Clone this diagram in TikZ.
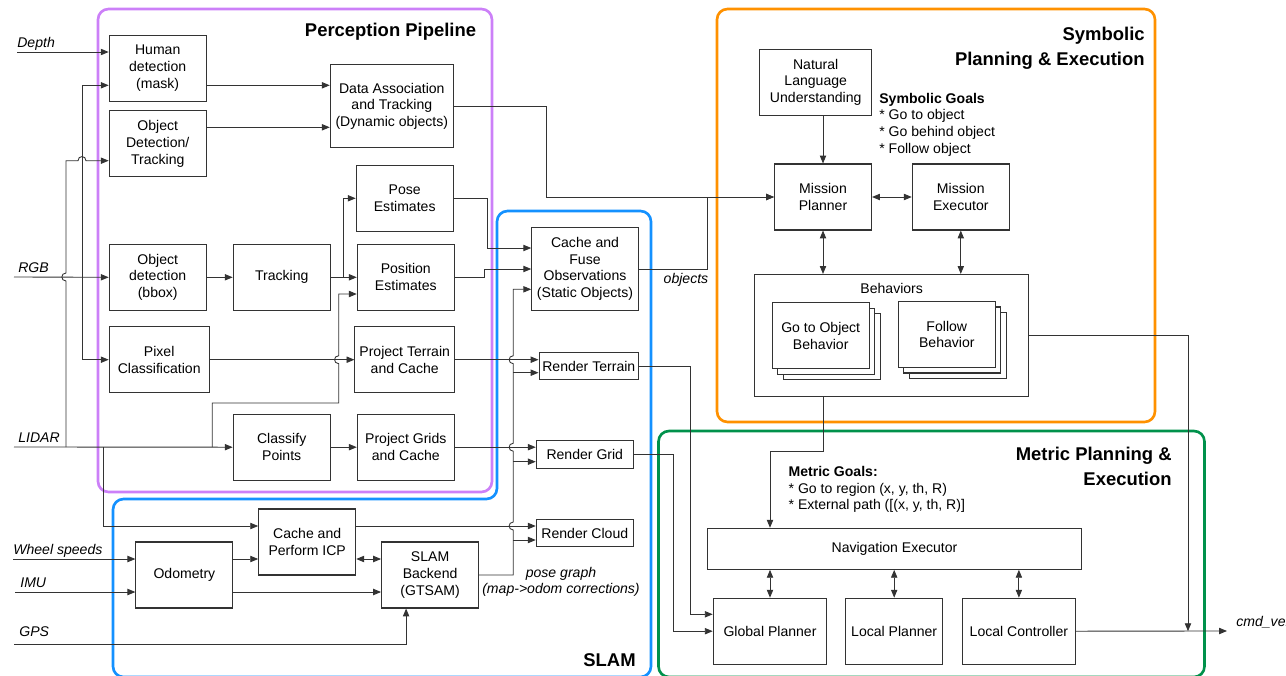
\documentclass[tikz,border=0pt]{standalone}
\usepackage{fontspec}
\setmainfont{Liberation Sans}
\usetikzlibrary{arrows.meta,calc}

\definecolor{percol}{RGB}{204,128,248}
\definecolor{slamcol}{RGB}{20,145,255}
\definecolor{symcol}{RGB}{255,145,0}
\definecolor{metcol}{RGB}{0,145,75}
\definecolor{wirecol}{gray}{0.2}

% line jumps: vertical going up, horizontal going right
\newcommand\hopv[2]{-- (#1,#2+4) .. controls (#1-5.5,#2+4) and (#1-5.5,#2-4) .. (#1,#2-4)}
\newcommand\hoph[2]{-- (#1-4,#2) .. controls (#1-4,#2-5.5) and (#1+4,#2-5.5) .. (#1+4,#2)}

\tikzset{
	box/.style={draw=wirecol,line width=.6pt,fill=white,minimum width=1.94cm,minimum height=1.32cm,inner sep=1pt,align=center,font=\fontsize{8}{9.5}\selectfont},
	flat/.style={box,minimum height=.55cm},
	link/.style={draw=wirecol,line width=.5pt},
	arr/.style={link,-{Triangle[length=4.5pt,width=3.6pt]}},
	darr/.style={link,{Triangle[length=4.5pt,width=3.6pt]}-{Triangle[length=4.5pt,width=3.6pt]}},
	region/.style={line width=1.5pt,rounded corners=6pt},
	title/.style={font=\fontsize{10.5}{14.4}\bfseries,align=right,inner sep=0pt},
	inlbl/.style={font=\fontsize{8}{9.5}\itshape,anchor=base west,inner sep=0pt,yshift=2.3pt},
	note/.style={font=\fontsize{8}{9.5}\selectfont,align=left,inner sep=0pt,anchor=north west}
}

\begin{document}
\begin{tikzpicture}[x=.02cm,y=-.02cm]
	\useasboundingbox (0,0) rectangle (1286,676);
	% regions
	\draw[region,percol] (98,9) rectangle (492,492);
	\draw[region,slamcol] (113,677)--(113,499)--(497,499)--(497,211)--(651,211)--(651,677)--cycle;
	\draw[region,symcol] (717,9) rectangle (1155,422);
	\draw[region,metcol] (658.5,431) rectangle (1204.5,677);
	\node[title,anchor=base east] (pertitle) at (476.5,36.5) {Perception Pipeline};
	\node[title,anchor=north east] (symtitle) at (1145,26.5) {Symbolic\\Planning \& Execution};
	\node[title,anchor=north east] (mettitle) at (1172,446.5) {Metric Planning \&\\Execution};
	\node[title,anchor=base east] (slamtitle) at (636,666) {SLAM};

	% inputs
	\path
	(17,52) coordinate (depth)
	(14,277) coordinate (rgb)
	(14,447) coordinate (lidar)
	(13,559) coordinate (wheel)
	(15,592) coordinate (imu)
	(14,644) coordinate (gps)
	(1227,631) coordinate (cmdvel)
	(513.3,575) coordinate (bus);
	\node[inlbl] (depthlbl) at (depth) {Depth};
	\node[inlbl] (rgblbl) at ($(rgb)+(4,0)$) {RGB};
	\node[inlbl] (lidarlbl) at ($(lidar)+(4,0)$) {LIDAR};
	\node[inlbl] (wheellbl) at (wheel) {Wheel speeds};
	\node[inlbl] (imulbl) at ($(imu)+(5,0)$) {IMU};
	\node[inlbl,yshift=1.7pt] (gpslbl) at ($(gps)+(5,0)$) {GPS};
	\node[inlbl] (cmdlbl) at ($(cmdvel)+(9,0)$) {cmd\_vel};

	% perception
	\node[box] (hum) at (157.7,68.3) {Human\\detection\\(mask)};
	\node[box] (objdt) at (157.7,143.7) {Object\\Detection/\\Tracking};
	\node[box,minimum width=2.46cm,minimum height=1.66cm] (da) at (391.8,106.2) {Data Association\\and Tracking\\(Dynamic objects)};
	\node[box] (pose) at (404.7,198.3) {Pose\\Estimates};
	\node[box] (objb) at (157.7,277.3) {Object\\detection\\(bbox)};
	\node[box] (trk) at (281.7,277.3) {Tracking};
	\node[box] (posi) at (405.8,277.3) {Position\\Estimates};
	\node[box,minimum width=2cm] (pix) at (159.2,359.7) {Pixel\\Classification};
	\node[box,minimum width=1.99cm] (pt) at (404.7,359.7) {Project Terrain\\and Cache};
	\node[box] (cls) at (281.7,447.2) {Classify\\Points};
	\node[box] (pg) at (405.8,447.2) {Project Grids\\and Cache};

	% slam
	\node[box,minimum width=2.13cm,minimum height=1.65cm] (cf) at (585,269) {Cache and\\Fuse\\Observations\\(Static Objects)};
	\node[flat,minimum width=1.99cm] (rt) at (588.8,366.2) {Render Terrain};
	\node[flat] (rg) at (584.8,454.5) {Render Grid};
	\node[flat] (rcl) at (584.8,533) {Render Cloud};
	\node[box] (cicp) at (307.2,542) {Cache and\\Perform ICP};
	\node[box] (odo) at (184.4,575) {Odometry};
	\node[box] (slam) at (430.1,575) {SLAM\\Backend\\(GTSAM)};
	\node[font=\fontsize{8}{9.5}\itshape,align=center,inner sep=0pt] (poselbl) at (561,582) {pose graph\\(map->odom corrections)};
	\node[font=\fontsize{8}{9.5}\itshape,inner sep=0pt] (objlbl) at (686,279.5) {objects};

	% symbolic planning
	\node[box,minimum width=2.23cm] (nlu) at (815.7,82.3) {Natural\\Language\\Understanding};
	\node[box] (mp) at (823,197) {Mission\\Planner};
	\node[box] (me) at (960.8,197) {Mission\\Executor};
	\node[note] (symgoals) at (879,92.5) {\textbf{Symbolic Goals}\\* Go to object\\* Go behind object\\* Follow object};
	\node[box,minimum width=5.49cm,minimum height=2.45cm] (beh) at (891.7,335.7) {};
	\node[font=\fontsize{8}{9.5}\selectfont,inner sep=0pt] (behlbl) at (891.7,288.3) {Behaviors};
	\foreach \s/\n in {11/gtoC,5.5/gtoB} \node[box] (\n) at (820.7+\s,335.8+\s) {};
	\node[box] (gto) at (820.7,335.8) {Go to Object\\Behavior};
	\foreach \s/\n in {11/folC,5.5/folB} \node[box] (\n) at (946.8+\s,334.5+\s) {};
	\node[box] (fol) at (946.8,334.5) {Follow\\Behavior};

	% metric planning
	\node[note] (metgoals) at (788.3,466) {\textbf{Metric Goals:}\\* Go to region (x, y, th, R)\\* External path ([(x, y, th, R)]};
	\node[box,minimum width=7.47cm,minimum height=.82cm] (ne) at (894.5,548.8) {Navigation Executor};
	\node[box,minimum width=2.27cm] (gp) at (770,631.2) {Global Planner};
	\node[box] (lp) at (894.2,631.2) {Local Planner};
	\node[box,minimum width=2.27cm] (lc) at (1018.9,631.2) {Local Controller};

	% inputs
	\draw[arr] (depth) -- (hum.west |- depth);
	\draw[arr] (rgb) -- (objb.west);
	\draw[arr] (rgb -| 82,0) |- (hum.west |- 0,85.3);
	\draw[arr] (rgb -| 82,0) |- (pix.west);
	\draw[arr] (lidar) -- (cls.west);
	\draw[arr] (lidar -| 66,0) \hopv{66}{277} -- (66,160.7) \hoph{82}{160.7} -- (objdt.west |- 0,160.7);
	\draw[arr] (lidar -| 212.3,0) |- (338.7,403) \hopv{338.7}{359.7} -- (338.7,294) -- (posi.west |- 0,294);
	\draw[arr] (lidar -| 103.3,0) |- (cicp.west |- 0,526);
	\draw[arr] (wheel) -- (odo.west |- wheel);
	\draw[arr] (imu) -- (odo.west |- imu);
	\draw[arr] (gps) -| ($(slam.south)+(-24,0)$);

	% perception links
	\draw[arr] (hum.east |- 0,85.3) -- (da.west |- 0,85.3);
	\draw[arr] (objdt.east |- 0,127.3) -- (da.west |- 0,127.3);
	\draw[arr] (da.east) -- ++(92.7,0) |- (mp.west);
	\draw[arr] (objb) -- (trk);
	\draw[arr] (trk) -- (posi);
	\draw[arr] ($(trk.east)+(12.7,0)$) |- (pose.west);
	\draw[arr] (pose.east) -- ++(33.3,0) |- (cf.west |- 0,248);
	\draw[arr] (posi.east) -- ++(29.7,0) |- (cf.west);
	\draw[arr] (pix) -- (pt);
	\draw[arr] (cls) -- (pg);
	\draw[arr] (pt.east) -- (rt.west |- pt.east);
	\draw[arr] (pg.east) -- (rg.west |- pg.east);

	% slam links
	\draw[arr] (odo.east |- 0,559) -- (cicp.west |- 0,559);
	\draw[arr] (odo.east |- 0,592) -- (slam.west |- 0,592);
	\draw[darr] (cicp.east |- 0,559) -- (slam.west |- 0,559);
	\draw[arr] (cicp.east |- 0,526) -- (rcl.west |- 0,526);
	\draw[arr] (slam.east) -- (bus) \hopv{513.3}{526} \hopv{513.3}{447.2} \hopv{513.3}{359.7} |- (cf.west |- 0,289.3);
	\draw[arr] (bus |- 0,540) -- (rcl.west |- 0,540);
	\draw[arr] (bus |- 0,461.7) -- (rg.west |- 0,461.7);
	\draw[arr] (bus |- 0,372.7) -- (rt.west |- 0,372.7);
	\draw[arr] (cf.east) -- ++(68.4,0) |- (mp.west);
	\draw[arr] (rt.east) -- ++(50.9,0) |- (gp.west |- 0,614.3);
	\draw[arr] (rg.east) -- ++(40,0) |- (gp.west);

	% planning links
	\draw[arr] (mp.north |- nlu.south) -- (mp.north);
	\draw[darr] (mp) -- (me);
	\draw[darr] (mp.south) -- (mp.south |- beh.north);
	\draw[darr] (me.south) -- (me.south |- beh.north);
	\draw[arr] (beh.east) -| (lc.east -| 1188,0);
	\draw[arr] (beh.south -| mp.south) -- ++(0,53.7) -| (gp.north |- ne.north);
	\foreach \n in {gp,lp,lc} \draw[darr] (ne.south -| \n.north) -- (\n.north);
	\draw[arr] (lc.east) -- (cmdvel);
\end{tikzpicture}
\end{document}
